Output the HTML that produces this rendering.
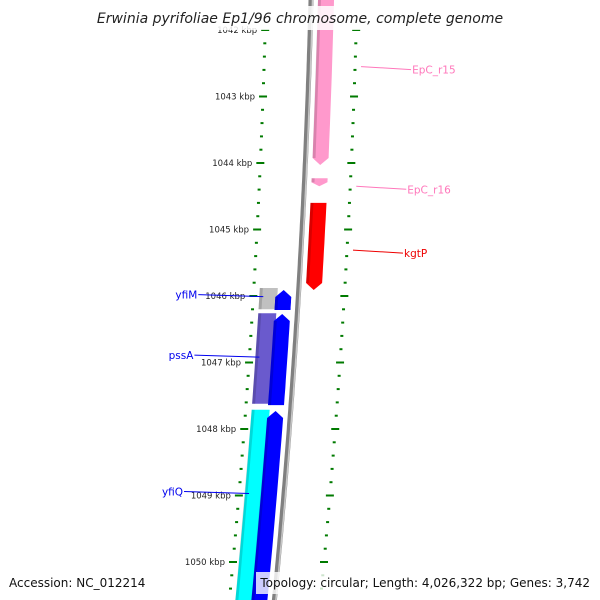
<!DOCTYPE html>
<html><head><meta charset="utf-8">
<style>
html,body{margin:0;padding:0;background:#fff;}
svg{display:block;font-family:"DejaVu Sans","Liberation Sans",sans-serif;}
</style></head>
<body>
<svg id="map" width="600" height="600" viewBox="0 0 600 600" xmlns="http://www.w3.org/2000/svg">
<g id="ticks"></g>
<g id="backbone"></g>
<g id="features"></g>
<g id="labels"></g>
<rect x="95" y="6" width="412" height="24" fill="#fff" fill-opacity="0.85"/>
<text x="300" y="23" text-anchor="middle" font-size="14" font-style="italic" fill="#222">Erwinia pyrifoliae Ep1/96 chromosome, complete genome</text>
<text x="9" y="587" font-size="12" fill="#111">Accession: NC_012214</text>
<rect x="256" y="572" width="338" height="22" fill="#fff" fill-opacity="0.8"/>
<text x="590" y="587" text-anchor="end" font-size="12" fill="#111">Topology: circular; Length: 4,026,322 bp; Genes: 3,742</text>
</svg>
<script>
const tickKbp = [1042,1043,1044,1045,1046,1047,1048,1049,1050,1051];
const tickLabels = ["1042 kbp","1043 kbp","1044 kbp","1045 kbp","1046 kbp","1047 kbp","1048 kbp","1049 kbp","1050 kbp","1051 kbp"];
const featNames = ["EpC_r15","EpC_r16","kgtP","yfiM","yfiM-rev","pssA","pssA-rev","yfiQ","yfiQ-rev"];
const featStart = [1041.5,1044.23,1044.60,1045.88,1045.91,1046.26,1046.27,1047.71,1047.73];
const featEnd = [1044.03,1044.35,1045.91,1046.20,1046.21,1047.62,1047.64,1050.60,1050.60];
const featStrand = [1,1,1,0,-1,0,-1,0,-1];
const featColor = ["#ff99cc","#ff99cc","#ff0000","#c0c0c0","#0000ff","#6a5acd","#0000ff","#00ffff","#0000ff"];
const labelText = ["EpC_r15","EpC_r16","kgtP","yfiM","pssA","yfiQ"];
const labelKbp = [1042.55,1044.35,1045.31,1046.01,1046.92,1048.97];
const labelSide = [1,1,1,-1,-1,-1];
const labelColor = ["#ff77bb","#ff77bb","#ee0000","#0000ee","#0000ee","#0000ee"];

const NS="http://www.w3.org/2000/svg";
function yOf(k){return 30+(k-1042)*66.5;}
function xOf(y,off){return 311-0.025*y-0.00006*y*y+off;}
function mk(tag,attrs,parent){const e=document.createElementNS(NS,tag);for(const a in attrs)e.setAttribute(a,attrs[a]);parent.appendChild(e);return e;}

// backbone
const bb=document.getElementById('backbone');
let pts=[];for(let y=-5;y<=605;y+=5)pts.push(xOf(y,0).toFixed(1)+","+y);
let bl=mk('polyline',{points:pts.join(' '),fill:'none',stroke:'#808080','stroke-width':5},bb);


let pts2=[];for(let y=-5;y<=605;y+=5)pts2.push(xOf(y,1.5).toFixed(1)+","+y);
let bl2=mk('polyline',{points:pts2.join(' '),fill:'none',stroke:'#c8c8c8','stroke-width':1.5},bb);



// ticks
const tg=document.getElementById('ticks');
[-45,46].forEach((off,ri)=>{
  for(let i=0;i<tickKbp.length-1;i++){
    for(let j=0;j<5;j++){
      const k=tickKbp[i]+j*0.2, y=yOf(k);
      if(y<-5||y>605)continue;
      const x=xOf(y,off), len=j===0?8:3;
      const t=mk('line',{x1:x-len/2,y1:y,x2:x+len/2,y2:y,stroke:'#007a00','stroke-width':2},tg);
      
      
      if(j===0&&ri===0){
        const tx=mk('text',{x:x-8,y:y+3,'text-anchor':'end','font-size':8.5,fill:'#222'},tg);
        tx.textContent=tickLabels[i];
        
        
      }
    }
  }
});

// features
const fg=document.getElementById('features');
featNames.forEach((n,i)=>{
  const s=featStrand[i];
  const off=s===1?15:(s===-1?-15:-30);
  const w=s===0?9:8;
  const y1=yOf(featStart[i]), y2=yOf(featEnd[i]);
  const head=s===0?0:Math.min(7,(y2-y1)/2);
  let left=[],right=[];
  const a=s===-1?y1+head:y1, b=s===1?y2-head:y2;
  for(let t=0;t<=10;t++){const y=a+(b-a)*t/10;left.push([xOf(y,off-w),y]);right.push([xOf(y,off+w),y]);}
  let poly=[];
  if(s===-1)poly.push([xOf(y1,off),y1]);
  poly=poly.concat(right);
  if(s===1)poly.push([xOf(y2,off),y2]);
  poly=poly.concat(left.reverse());
  const p=mk('polygon',{points:poly.map(q=>q[0].toFixed(1)+","+q[1].toFixed(1)).join(' '),fill:featColor[i]},fg);
  
  
  const sh=mk('line',{x1:xOf(a,off-w+1.5),y1:a,x2:xOf(b,off-w+1.5),y2:b,stroke:'#000','stroke-opacity':0.15,'stroke-width':3},fg);
  
  
});

// labels
const lg=document.getElementById('labels');
labelText.forEach((t,i)=>{
  const y=yOf(labelKbp[i]), side=labelSide[i];
  const x0=side===1?xOf(y,52):xOf(y,-35);
  const x1=side===1?x0+50:x0-65;
  const l=mk('line',{x1:x0,y1:y,x2:x1,y2:y+(side===1?3:-2),stroke:labelColor[i],'stroke-width':1},lg);
  
  
  const tx=mk('text',{x:side===1?x1+1:x1-1,y:y+(side===1?7:2),'text-anchor':side===1?'start':'end','font-size':10.5,fill:labelColor[i]},lg);
  tx.textContent=t;
  
  
});
</script>
</body></html>
